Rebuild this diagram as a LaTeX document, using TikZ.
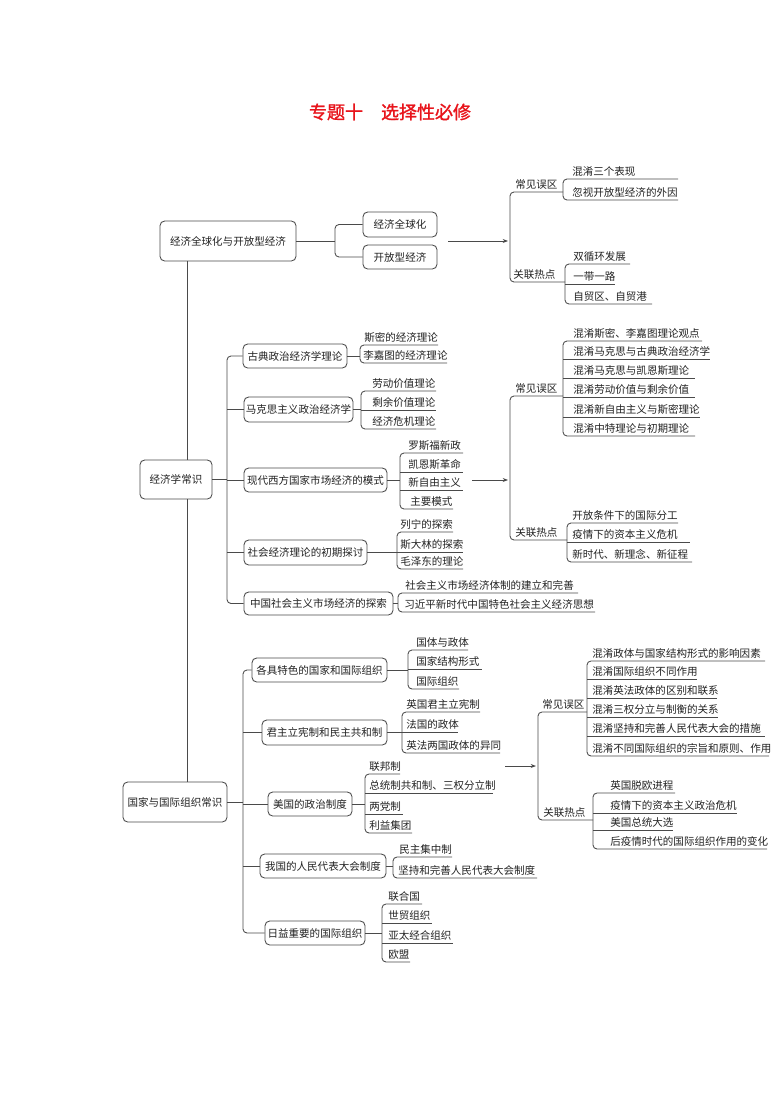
\documentclass[tikz,border=0pt]{standalone}
\usepackage{fontspec}
\setmainfont{Noto Sans CJK SC}
\newfontfamily\titlefont[FakeBold=1.5]{Noto Sans CJK SC}
\usetikzlibrary{arrows.meta}
\definecolor{ln}{HTML}{4A4A4A}
\definecolor{tx}{HTML}{222222}
\definecolor{ttl}{HTML}{E8141B}
\newcommand\bodyfont{\fontsize{7.9pt}{9pt}\selectfont}
\tikzset{
  conn/.style={draw=ln, line width=0.65pt, rounded corners=3pt},
  box/.style 2 args={draw=ln, line width=0.65pt, rounded corners=3.5pt,
    minimum width=#1*0.75pt, minimum height=#2*0.75pt, inner sep=0pt,
    font=\bodyfont, text=tx},
  leaf/.style={anchor=south west, inner sep=0pt, font=\bodyfont, text=tx, yshift=1.6pt},
  arr/.style={draw=ln, line width=0.65pt, -{Stealth[length=4pt,width=3pt]}},
}
% name, x of bracket, x of text, y of underline, x of underline end, text
\newcommand\lf[6]{\coordinate (#1-s) at (#2,#4); \coordinate (#1-e) at (#5,#4);
  \node[leaf] (#1) at (#3,#4) {#6};}
\begin{document}
\begin{tikzpicture}[x=0.75pt,y=-0.75pt]
\fill[white] (0,0) rectangle (780,1103);
\useasboundingbox (0,0) rectangle (780,1103);

% title
\node[font=\titlefont\fontsize{13.5pt}{15pt}\selectfont, text=ttl] (title) at (390,112) {专题十　选择性必修};

\coordinate (tk) at (187,0);

%================ section 1
\node[box={136}{40}] (B1) at (228,241) {经济全球化与开放型经济};
\node[box={74}{25}] (B2) at (400,224.5) {经济全球化};
\node[box={74}{24}] (B3) at (400,257) {开放型经济};
\coordinate (br1) at (335,0);
\draw[conn] (B2.west) -- (B2.west -| br1) -- (B3.west -| br1) -- (B3.west);
\draw[conn] (B1.east) -- (B1.east -| br1);

\coordinate (a1s) at (448,241); \coordinate (a1e) at (508,241);
\draw[arr] (a1s) -- (a1e);

\lf{cw1}{510}{515}{192}{563}{常见误区}
\lf{c1a}{563}{572}{179}{678}{混淆三个表现}
\lf{c1b}{563}{572}{200}{678}{忽视开放型经济的外因}
\lf{gl1}{510}{513}{282}{565}{关联热点}
\lf{g1a}{565}{573}{264}{630}{双循环发展}
\lf{g1b}{565}{573}{284}{615}{一带一路}
\lf{g1c}{565}{573}{304}{652}{自贸区、自贸港}
\draw[conn] (cw1-e) -- (cw1-s) -- (gl1-s) -- (gl1-e);
\draw[conn] (c1a-e) -- (c1a-s) -- (c1b-s) -- (c1b-e);
\draw[conn] (g1a-e) -- (g1a-s) -- (g1c-s) -- (g1c-e);
\draw[conn] (g1b-s) -- (g1b-e);

%================ section 2
\node[box={72}{39}] (B4) at (176,479.5) {经济学常识};
\node[box={104}{24}] (B5) at (295,356) {古典政治经济学理论};
\node[box={109}{25}] (B6) at (298.5,409.5) {马克思主义政治经济学};
\node[box={143}{24}] (B7) at (315.5,480) {现代西方国家市场经济的模式};
\node[box={123}{25}] (B8) at (305.5,552.5) {社会经济理论的初期探讨};
\node[box={149}{23}] (B9) at (318.5,603.5) {中国社会主义市场经济的探索};
\draw[conn] (B1.south -| tk) -- (B4.north -| tk);
\coordinate (br2) at (227,0);
\draw[conn] (B5.west) -- (B5.west -| br2) -- (B9.west -| br2) -- (B9.west);
\foreach \b in {B6,B7,B8} {\draw[conn] (\b.west -| br2) -- (\b.west);}
\draw[conn] (B4.east) -- (B4.east -| br2);

\lf{s1}{360}{364}{345}{438}{斯密的经济理论}
\lf{s2}{360}{363}{363}{447}{李嘉图的经济理论}
\draw[conn] (s1-e) -- (s1-s) -- (s2-s) -- (s2-e);
\draw[conn] (B5.east) -- (B5.east -| s1-s);

\lf{m1}{361}{372}{391}{436}{劳动价值理论}
\lf{m2}{361}{372}{410}{436}{剩余价值理论}
\lf{m3}{361}{372}{429}{436}{经济危机理论}
\draw[conn] (m1-e) -- (m1-s) -- (m3-s) -- (m3-e);
\draw[conn] (m2-s) -- (m2-e);
\draw[conn] (B6.east) -- (B6.east -| m1-s);

\lf{x1}{400}{408}{453}{463}{罗斯福新政}
\lf{x2}{400}{408}{472}{463}{凯恩斯革命}
\lf{x3}{400}{408}{490}{463}{新自由主义}
\lf{x4}{400}{410}{509}{453}{主要模式}
\draw[conn] (x1-e) -- (x1-s) -- (x4-s) -- (x4-e);
\draw[conn] (x2-s) -- (x2-e);
\draw[conn] (x3-s) -- (x3-e);
\draw[conn] (B7.east) -- (B7.east -| x1-s);

\lf{h1}{397}{400}{532}{453}{列宁的探索}
\lf{h2}{397}{400}{552}{463}{斯大林的探索}
\lf{h3}{397}{400}{569}{463}{毛泽东的理论}
\draw[conn] (h1-e) -- (h1-s) -- (h3-s) -- (h3-e);
\draw[conn] (h2-s) -- (h2-e);
\draw[conn] (B8.east) -- (B8.east -| h1-s);

\lf{z1}{398}{405}{593}{578}{社会主义市场经济体制的建立和完善}
\lf{z2}{398}{404}{612}{595}{习近平新时代中国特色社会主义经济思想}
\draw[conn] (z1-e) -- (z1-s) -- (z2-s) -- (z2-e);
\draw[conn] (B9.east) -- (B9.east -| z1-s);

\coordinate (a2s) at (472,480); \coordinate (a2e) at (508,480);
\draw[arr] (a2s) -- (a2e);

\lf{cw2}{510}{515}{396}{563}{常见误区}
\lf{c2a}{563}{573}{341}{702}{混淆斯密、李嘉图理论观点}
\lf{c2b}{563}{573}{359}{710}{混淆马克思与古典政治经济学}
\lf{c2c}{563}{573}{378}{695}{混淆马克思与凯恩斯理论}
\lf{c2d}{563}{573}{397}{695}{混淆劳动价值与剩余价值}
\lf{c2e}{563}{573}{417}{700}{混淆新自由主义与斯密理论}
\lf{c2f}{563}{573}{436}{695}{混淆中特理论与初期理论}
\lf{gl2}{510}{515}{540}{567}{关联热点}
\lf{g2a}{567}{572}{523}{678}{开放条件下的国际分工}
\lf{g2b}{567}{572}{542}{690}{疫情下的资本主义危机}
\lf{g2c}{567}{572}{562}{692}{新时代、新理念、新征程}
\draw[conn] (cw2-e) -- (cw2-s) -- (gl2-s) -- (gl2-e);
\draw[conn] (c2a-e) -- (c2a-s) -- (c2f-s) -- (c2f-e);
\foreach \m in {c2b,c2c,c2d,c2e} {\draw[conn] (\m-s) -- (\m-e);}
\draw[conn] (g2a-e) -- (g2a-s) -- (g2c-s) -- (g2c-e);
\draw[conn] (g2b-s) -- (g2b-e);

%================ section 3
\node[box={104}{40}] (B10) at (175,802) {国家与国际组织常识};
\node[box={135}{24}] (B11) at (319.5,670) {各具特色的国家和国际组织};
\node[box={125}{25}] (B12) at (324.5,732.5) {君主立宪制和民主共和制};
\node[box={84}{24}] (B13) at (310,804) {美国的政治制度};
\node[box={126}{24}] (B14) at (323,866) {我国的人民代表大会制度};
\node[box={100}{24}] (B15) at (315,933) {日益重要的国际组织};
\draw[conn] (B4.south -| tk) -- (B10.north -| tk);
\coordinate (br3) at (243,0);
\draw[conn] (B11.west) -- (B11.west -| br3) -- (B15.west -| br3) -- (B15.west);
\foreach \b in {B12,B13,B14} {\draw[conn] (\b.west -| br3) -- (\b.west);}
\draw[conn] (B10.east) -- (B10.east -| br3);

\lf{k1}{408}{416}{650}{468}{国体与政体}
\lf{k2}{408}{416}{669}{482}{国家结构形式}
\lf{k3}{408}{416}{689}{459}{国际组织}
\draw[conn] (k1-e) -- (k1-s) -- (k3-s) -- (k3-e);
\draw[conn] (k2-s) -- (k2-e);
\draw[conn] (B11.east) -- (B11.east -| k1-s);

\lf{j1}{402}{406}{712}{480}{英国君主立宪制}
\lf{j2}{402}{406}{732}{458}{法国的政体}
\lf{j3}{402}{406}{753}{500}{英法两国政体的异同}
\draw[conn] (j1-e) -- (j1-s) -- (j3-s) -- (j3-e);
\draw[conn] (j2-s) -- (j2-e);
\draw[conn] (B12.east) -- (B12.east -| j1-s);

\lf{u1}{365}{369}{774}{400}{联邦制}
\lf{u2}{365}{369}{793}{493}{总统制共和制、三权分立制}
\lf{u3}{365}{369}{814}{403}{两党制}
\lf{u4}{365}{369}{833}{412}{利益集团}
\draw[conn] (u1-e) -- (u1-s) -- (u4-s) -- (u4-e);
\draw[conn] (u2-s) -- (u2-e);
\draw[conn] (u3-s) -- (u3-e);
\draw[conn] (B13.east) -- (B13.east -| u1-s);

\lf{w1}{393}{399}{857}{452}{民主集中制}
\lf{w2}{393}{398}{878}{537}{坚持和完善人民代表大会制度}
\draw[conn] (w1-e) -- (w1-s) -- (w2-s) -- (w2-e);
\draw[conn] (B14.east) -- (B14.east -| w1-s);

\lf{r1}{382}{388}{904}{422}{联合国}
\lf{r2}{382}{388}{923}{432}{世贸组织}
\lf{r3}{382}{388}{943}{453}{亚太经合组织}
\lf{r4}{382}{388}{962}{410}{欧盟}
\draw[conn] (r1-e) -- (r1-s) -- (r4-s) -- (r4-e);
\draw[conn] (r2-s) -- (r2-e);
\draw[conn] (r3-s) -- (r3-e);
\draw[conn] (B15.east) -- (B15.east -| r1-s);

\coordinate (a3s) at (505,766); \coordinate (a3e) at (536,766);
\draw[arr] (a3s) -- (a3e);

\lf{cw3}{538}{542}{712}{587}{常见误区}
\lf{c3a}{587}{592}{661}{765}{混淆政体与国家结构形式的影响因素}
\lf{c3b}{587}{592}{679}{697}{混淆国际组织不同作用}
\lf{c3c}{587}{592}{698}{717}{混淆英法政体的区别和联系}
\lf{c3d}{587}{592}{717}{718}{混淆三权分立与制衡的关系}
\lf{c3e}{587}{592}{736}{765}{混淆坚持和完善人民代表大会的措施}
\lf{c3f}{587}{592}{756}{769}{混淆不同国际组织的宗旨和原则、作用}
\lf{gl3}{538}{543}{820}{593}{关联热点}
\lf{g3a}{593}{610}{793}{675}{英国脱欧进程}
\lf{g3b}{593}{610}{813}{737}{疫情下的资本主义政治危机}
\lf{g3c}{593}{610}{830}{673}{美国总统大选}
\lf{g3d}{593}{610}{849}{767}{后疫情时代的国际组织作用的变化}
\draw[conn] (cw3-e) -- (cw3-s) -- (gl3-s) -- (gl3-e);
\draw[conn] (c3a-e) -- (c3a-s) -- (c3f-s) -- (c3f-e);
\foreach \m in {c3b,c3c,c3d,c3e} {\draw[conn] (\m-s) -- (\m-e);}
\draw[conn] (g3a-e) -- (g3a-s) -- (g3d-s) -- (g3d-e);
\foreach \m in {g3b,g3c} {\draw[conn] (\m-s) -- (\m-e);}
\end{tikzpicture}
\end{document}
